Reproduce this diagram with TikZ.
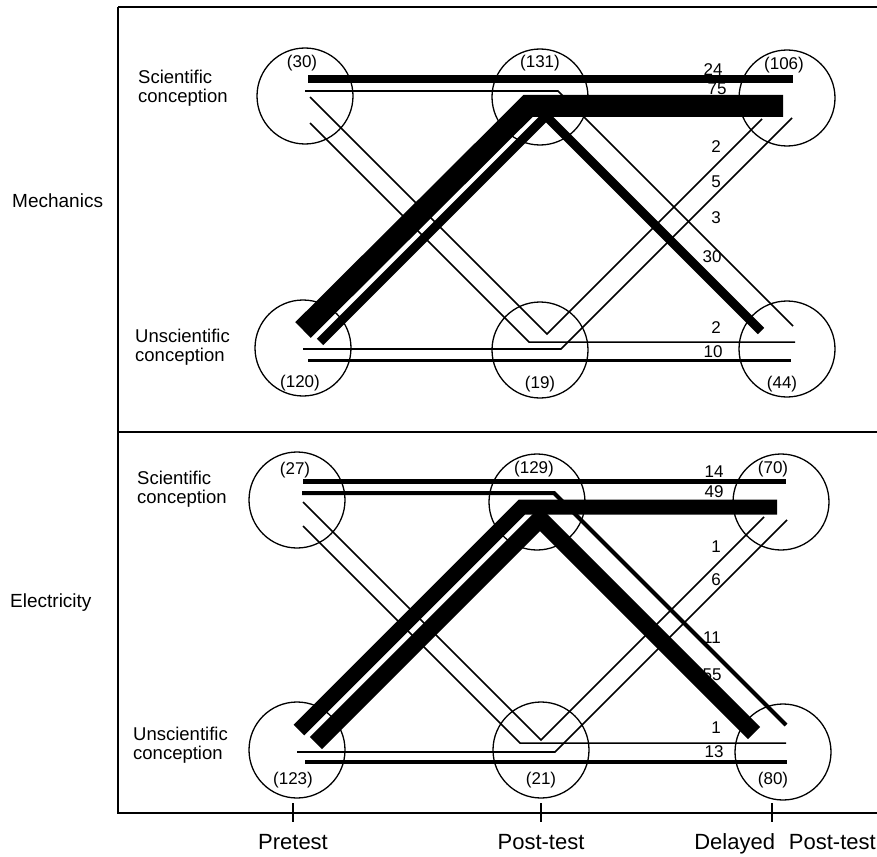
\documentclass[tikz,border=0pt]{standalone}
\usepackage{fontspec}
\setmainfont{Liberation Sans}

\begin{document}
\begin{tikzpicture}[x=1pt, y=-1pt,
        every node/.style={inner sep=0pt},
        grp/.style={circle, draw, line width=1.3pt, minimum size=96pt},
        cnt/.style={font=\fontsize{17}{17}\selectfont},
        side/.style={font=\fontsize{18.5}{19}\selectfont, align=left, anchor=north west},
        axis/.style={font=\fontsize{22}{22}\selectfont, anchor=base},
        frame/.style={line width=1.3pt},
        strand/.style={line width=#1, line join=miter, line cap=butt}
    ]
        \useasboundingbox (0,0) rectangle (877,856);

        % Frame and time axis
        \draw[frame] (118,7) -- (877,7);
        \draw[frame] (118,432) -- (877,432);
        \draw[frame] (118,7) -- (118,813) -- (877,813);
        \draw[frame] (293,803) -- (293,822);
        \draw[frame] (541,803) -- (541,822);
        \draw[frame] (772,803) -- (772,822);
        \node[axis] (pre) at (293,849) {Pretest};
        \node[axis] (post) at (541,849) {Post-test};
        \node[axis, anchor=base east] (del) at (876,849) {Delayed\hspace{14pt}Post-test};

        % Mechanics
        \node[anchor=base west, font=\fontsize{19}{19}\selectfont] (mech) at (12,207) {Mechanics};
        \node[side] (msci) at (138,70) {Scientific\\conception};
        \node[side] (muns) at (135,329) {Unscientific\\conception};

        \node[grp] (mS1) at (305,96) {};
        \node[grp] (mS2) at (540,97) {};
        \node[grp] (mS3) at (787,98) {};
        \node[grp] (mU1) at (303,348) {};
        \node[grp] (mU2) at (540,350) {};
        \node[grp] (mU3) at (787,349) {};

        \draw[strand=1.6pt] (305,91) -- (558,91) -- (793,326);
        \draw[strand=1.5pt] (310,97) -- (547,334) -- (762,119);
        \draw[strand=1.5pt] (310,123) -- (529,342) -- (795,342);
        \draw[strand=1.7pt] (303,349) -- (561,349) -- (792,118);
        \draw[strand=3pt] (308,360) -- (791,360);
        \draw[strand=8pt] (308,79) -- (793,79);
        \draw[strand=22pt] (303,330) -- (528,106) -- (783,106);
        \draw[strand=9pt] (320,342) -- (546,116) -- (761,331);

        \node[cnt] (mn1) at (302,63) {(30)};
        \node[cnt] (mn2) at (540,63) {(131)};
        \node[cnt] (mn3) at (784,65) {(106)};
        \node[cnt] (mn4) at (300,383) {(120)};
        \node[cnt] (mn5) at (540,384) {(19)};
        \node[cnt] (mn6) at (782,384) {(44)};

        \node[cnt] (mf1) at (713,70) {24};
        \node[cnt] (mf2) at (717,89) {75};
        \node[cnt] (mf3) at (716,147) {2};
        \node[cnt] (mf4) at (716,182) {5};
        \node[cnt] (mf5) at (716,218) {3};
        \node[cnt] (mf6) at (712,257) {30};
        \node[cnt] (mf7) at (716,328) {2};
        \node[cnt] (mf8) at (713,352) {10};

        % Electricity
        \node[anchor=base west, font=\fontsize{19}{19}\selectfont] (elec) at (10,607) {Electricity};
        \node[side] (esci) at (137,471) {Scientific\\conception};
        \node[side] (euns) at (133,727) {Unscientific\\conception};

        \node[grp] (eS1) at (297,500) {};
        \node[grp] (eS2) at (537,502) {};
        \node[grp] (eS3) at (781,502) {};
        \node[grp] (eU1) at (297,750) {};
        \node[grp] (eU2) at (541,750) {};
        \node[grp] (eU3) at (783,752) {};

        \draw[strand=1.5pt] (303,502) -- (541,740) -- (764,517);
        \draw[strand=1.5pt] (303,526) -- (520,743) -- (786,743);
        \draw[strand=1.7pt] (297,752) -- (555,752) -- (787,520);
        \draw[strand=4pt] (305,762) -- (787,762);
        \draw[strand=5pt] (303,481) -- (786,481);
        \draw[strand=4pt] (302,493) -- (554,493) -- (786,725);
        \draw[strand=15pt] (299,730) -- (522,507) -- (777,507);
        \draw[strand=17pt] (316,743) -- (540,519) -- (754,733);

        \node[cnt] (en1) at (295,470) {(27)};
        \node[cnt] (en2) at (534,469) {(129)};
        \node[cnt] (en3) at (773,469) {(70)};
        \node[cnt] (en4) at (293,780) {(123)};
        \node[cnt] (en5) at (541,780) {(21)};
        \node[cnt] (en6) at (773,780) {(80)};

        \node[cnt] (ef1) at (714,472) {14};
        \node[cnt] (ef2) at (714,492) {49};
        \node[cnt] (ef3) at (716,547) {1};
        \node[cnt] (ef4) at (716,580) {6};
        \node[cnt] (ef5) at (712,638) {11};
        \node[cnt] (ef6) at (712,675) {55};
        \node[cnt] (ef7) at (716,728) {1};
        \node[cnt] (ef8) at (714,752) {13};

    \end{tikzpicture}
\end{document}
